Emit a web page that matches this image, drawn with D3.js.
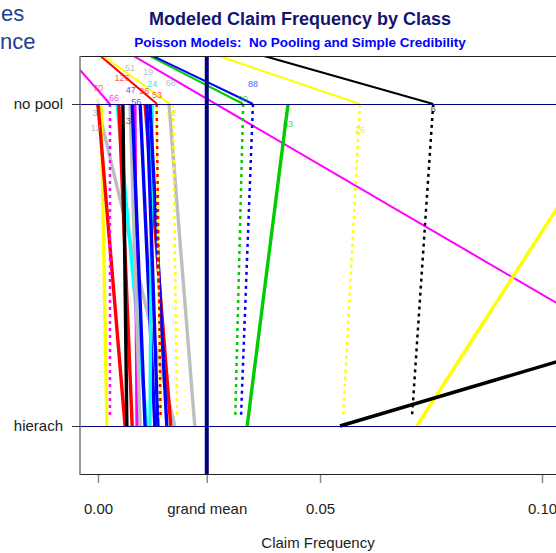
<!DOCTYPE html>
<html>
<head>
<meta charset="utf-8">
<title>Modeled Claim Frequency by Class</title>
<script src="https://cdn.jsdelivr.net/npm/d3@7"></script>
<style>
  body { margin: 0; background: #fff; }
  svg { display: block; font-family: "Liberation Sans", Arial, sans-serif; }
  .slide { fill: #1f3f8f; font-size: 22px; }
  .title { fill: #141470; font-size: 18px; font-weight: bold; }
  .subtitle { fill: #0000ff; font-size: 13.5px; font-weight: bold; }
  .lab { font-size: 15px; fill: #222; }
  .cls { font-size: 9px; opacity: 0.75; }
</style>
</head>
<body>
<div id="chart"></div>
<script>
// y levels of the two models
var levelNames = ['hierach', 'no pool'];
var levelValues = [0, 1];
var grandMean = 0.0245;
var xTickValues = [0, grandMean, 0.05, 0.10];
var xTickLabels = ['0.00', 'grand mean', '0.05', '0.10'];

// thick solid lines: no pool estimate -> hierarchical estimate
var solidNoPool = [-0.0002, 0.0007, 0.0000, 0.0043, 0.0047, 0.0056, 0.0083, 0.0072, 0.0077, 0.0095, 0.0106, 0.0122, 0.0110, 0.0117, 0.0160, 0.0428, 0.1185, 0.2993];
var solidHier   = [ 0.0173, 0.0020, 0.0061, 0.0110, 0.0077, 0.0065, 0.0088, 0.0095, 0.0106, 0.0128, 0.0164, 0.0117, 0.0135, 0.0155, 0.0218, 0.0336, 0.0718, 0.0545];
var solidColor  = ['#bebebe', '#ffff00', '#ff0000', '#00ffff', '#ff0000', '#000000', '#ff00ff', '#bebebe', '#0000ff', '#0000ff', '#ff0000', '#00ffff', '#0000ff', '#0000ff', '#bebebe', '#00cd00', '#ffff00', '#000000'];

// dotted lines: no pool estimate -> simple credibility estimate
var credLevel = 0.025;
var dotNoPool = [0.0027, 0.0132, 0.0131, 0.0169, 0.0327, 0.0349, 0.0590, 0.0755];
var dotCred   = [0.0027, 0.0141, 0.0140, 0.0178, 0.0309, 0.0322, 0.0552, 0.0707];
var dotColor  = ['#ff00ff', '#ff0000', '#ffff00', '#ffff00', '#00cd00', '#0000ff', '#ffff00', '#000000'];

// thin lines running into the plot from above
var thinTopLevel = 1.15;
var thinTop      = [-0.0069, 0.0005, 0.0011, 0.0079, 0.0115, 0.0122, 0.0270, 0.0372];
var thinEnd      = [ 0.0027, 0.0133, 0.0162, 0.1507, 0.0327, 0.0349, 0.0590, 0.0755];
var thinEndLevel = [1, 1, 1, 0, 1, 1, 1, 1];
var thinColor    = ['#ff00ff', '#ff0000', '#ffff00', '#ff00ff', '#00cd00', '#0000ff', '#ffff00', '#000000'];

// class number labels
var labelText  = ['70', '126', '51', '19', '24', '68', '47', '26', '53', '56', '66', '1', '1', '3', '12', '13', '42', '88', '90', '63', '26', '6'];
var labelX     = [0.0000, 0.0054, 0.0072, 0.0113, 0.0122, 0.0164, 0.0074, 0.0104, 0.0133, 0.0086, 0.0036, 0.0000, 0.0020, -0.0007, -0.0005, 0.0063, 0.0166, 0.0349, 0.0326, 0.0428, 0.0590, 0.0755];
var labelLevel = [1.050, 1.081, 1.112, 1.099, 1.062, 1.065, 1.044, 1.040, 1.028, 1.006, 1.019, 1.006, 1.006, 0.972, 0.925, 0.947, 0.972, 1.062, 1.016, 0.938, 0.919, 0.984];
var labelColor = ['#ff3030', '#ff2020', '#aaaaaa', '#aaaaaa', '#00ccff', '#aaaaaa', '#2020ff', '#ff2020', '#ff2020', '#2020ff', '#ff00ff', '#e0e000', '#ff00ff', '#999999', '#aaaaaa', '#552255', '#e0e000', '#2020ff', '#00cd00', '#00cd00', '#e0e000', '#000000'];

var width = 556, height = 553;
var margin = { left: 80, top: 56, right: 620, bottom: 474 };

var svg = d3.select('#chart').append('svg')
  .attr('width', width)
  .attr('height', height);

var x = d3.scaleLinear().domain([0, 0.05]).range([98, 320]);
var y = d3.scaleLinear().domain([0, 1]).range([426, 104]);

// slide text peeking in at the top left
svg.append('text').attr('class', 'slide').attr('x', 1).attr('y', 21).text('es');
svg.append('text').attr('class', 'slide').attr('x', 0).attr('y', 49).text('nce');

svg.append('text').attr('class', 'title')
  .attr('x', 300).attr('y', 25).attr('text-anchor', 'middle')
  .text('Modeled Claim Frequency by Class');
svg.append('text').attr('class', 'subtitle')
  .attr('x', 300).attr('y', 47).attr('text-anchor', 'middle')
  .style('white-space', 'pre')
  .text('Poisson Models:  No Pooling and Simple Credibility');

svg.append('clipPath').attr('id', 'plotclip')
  .append('rect')
  .attr('x', margin.left).attr('y', margin.top)
  .attr('width', margin.right - margin.left)
  .attr('height', margin.bottom - margin.top);

var plot = svg.append('g').attr('clip-path', 'url(#plotclip)');

// thin lines
plot.selectAll('.thin')
  .data(d3.range(thinTop.length))
  .enter().append('line')
  .attr('class', 'thin')
  .attr('x1', function(i) { return x(thinTop[i]); })
  .attr('y1', function() { return y(thinTopLevel); })
  .attr('x2', function(i) { return x(thinEnd[i]); })
  .attr('y2', function(i) { return y(thinEndLevel[i]); })
  .attr('stroke', function(i) { return thinColor[i]; })
  .attr('stroke-width', 2);

// thick solid lines
plot.selectAll('.solid')
  .data(d3.range(solidNoPool.length))
  .enter().append('line')
  .attr('class', 'solid')
  .attr('x1', function(i) { return x(solidNoPool[i]); })
  .attr('y1', y(1))
  .attr('x2', function(i) { return x(solidHier[i]); })
  .attr('y2', y(0))
  .attr('stroke', function(i) { return solidColor[i]; })
  .attr('stroke-width', 3.4);

// dotted lines
plot.selectAll('.dot')
  .data(d3.range(dotNoPool.length))
  .enter().append('line')
  .attr('class', 'dot')
  .attr('x1', function(i) { return x(dotNoPool[i]); })
  .attr('y1', y(1))
  .attr('x2', function(i) { return x(dotCred[i]); })
  .attr('y2', y(credLevel))
  .attr('stroke', function(i) { return dotColor[i]; })
  .attr('stroke-width', 2.5)
  .attr('stroke-dasharray', '3,4')
  .attr('stroke-dashoffset', function(i) { return i === 2 ? 3.5 : 0; });

// class labels
plot.selectAll('.cls')
  .data(d3.range(labelText.length))
  .enter().append('text')
  .attr('class', 'cls')
  .attr('x', function(i) { return x(labelX[i]); })
  .attr('y', function(i) { return y(labelLevel[i]); })
  .attr('text-anchor', 'middle')
  .attr('dominant-baseline', 'central')
  .attr('fill', function(i) { return labelColor[i]; })
  .text(function(i) { return labelText[i]; });

// level lines
plot.selectAll('.level')
  .data(levelValues)
  .enter().append('line')
  .attr('x1', margin.left).attr('x2', margin.right)
  .attr('y1', function(d) { return y(d) + 0.5; })
  .attr('y2', function(d) { return y(d) + 0.5; })
  .attr('stroke', '#000080')
  .attr('stroke-width', 1.2)
  .attr('shape-rendering', 'crispEdges');

// grand mean
plot.append('line')
  .attr('x1', x(grandMean)).attr('x2', x(grandMean))
  .attr('y1', margin.top).attr('y2', margin.bottom)
  .attr('stroke', '#000080')
  .attr('stroke-width', 4);

// frame
svg.append('line').attr('x1', margin.left).attr('x2', width).attr('y1', margin.top + 0.5).attr('y2', margin.top + 0.5).attr('stroke', '#222');
svg.append('line').attr('x1', margin.left).attr('x2', width).attr('y1', margin.bottom + 0.5).attr('y2', margin.bottom + 0.5).attr('stroke', '#222');
svg.append('line').attr('x1', margin.left).attr('x2', margin.left).attr('y1', margin.top).attr('y2', margin.bottom + 1).attr('stroke', '#777').attr('stroke-width', 1.5);

// x axis
var xAxis = d3.axisBottom(x)
  .tickValues(xTickValues)
  .tickSize(8)
  .tickPadding(20)
  .tickFormat(function(d, i) { return xTickLabels[i]; });
var gx = svg.append('g').attr('transform', 'translate(0,' + (margin.bottom + 1) + ')').call(xAxis);
gx.select('.domain').remove();
gx.selectAll('.tick line').attr('stroke', '#888').attr('stroke-width', 1.5);
gx.selectAll('.tick text').attr('fill', '#222').style('font-size', '15px')
  .style('font-family', '"Liberation Sans", Arial, sans-serif');

// y axis
var yAxis = d3.axisLeft(y)
  .tickValues(levelValues)
  .tickSize(8)
  .tickPadding(9)
  .tickFormat(function(d, i) { return levelNames[i]; });
var gy = svg.append('g').attr('transform', 'translate(' + margin.left + ',0)').call(yAxis);
gy.select('.domain').remove();
gy.selectAll('.tick line').attr('stroke', '#333');
gy.selectAll('.tick text').attr('fill', '#222').style('font-size', '15px')
  .style('font-family', '"Liberation Sans", Arial, sans-serif');

svg.append('text').attr('class', 'lab')
  .attr('x', 318).attr('y', 548).attr('text-anchor', 'middle')
  .text('Claim Frequency');
</script>
</body>
</html>
